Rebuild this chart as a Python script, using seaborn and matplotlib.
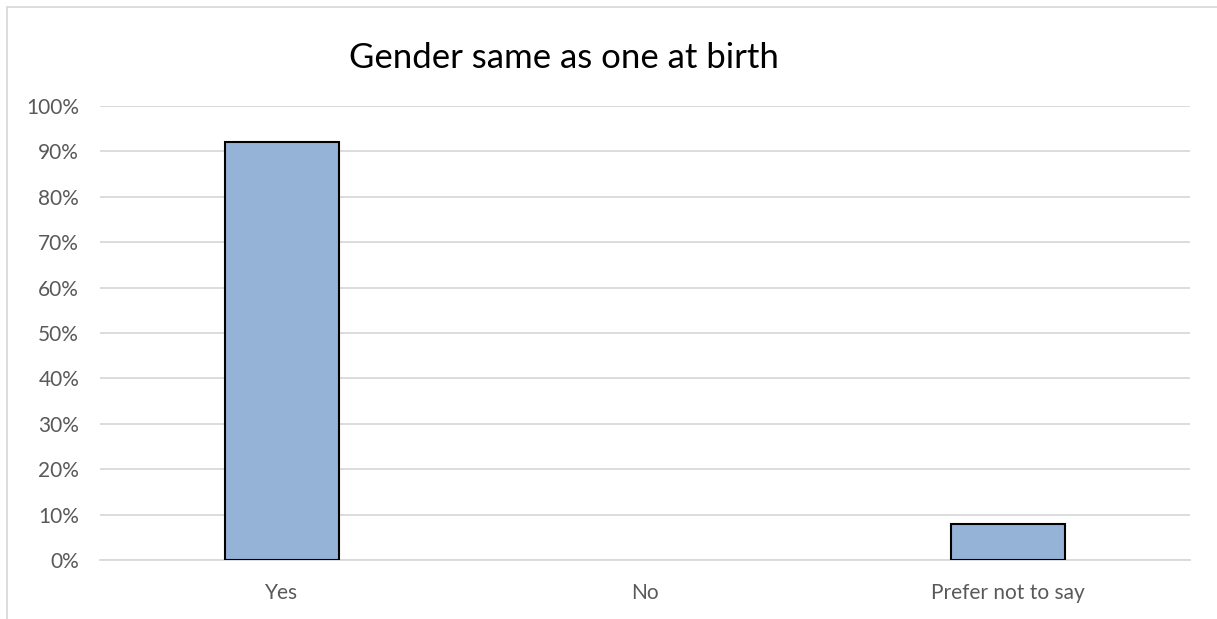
import matplotlib
matplotlib.use("Agg")
import matplotlib.pyplot as plt
import seaborn as sns
import pandas as pd
from matplotlib.patches import Rectangle
from matplotlib.ticker import PercentFormatter

categories = ["Yes", "No", "Prefer not to say"]
values = [92, 0, 8]
yticks = [0, 10, 20, 30, 40, 50, 60, 70, 80, 90, 100]
title = "Gender same as one at birth"

sns.set_theme(style="white")
plt.rcParams['font.family'] = ['Lato', 'DejaVu Sans']

W, H = 1217, 619
fig = plt.figure(figsize=(W / 100, H / 100), dpi=100)
ax = fig.add_axes([100 / W, 1 - 560 / H, (1190 - 100) / W, (560 - 106) / H])

df = pd.DataFrame({"cat": categories, "val": values})
sns.barplot(data=df, x="cat", y="val", ax=ax, color="#95b3d7", saturation=1,
            width=0.314, edgecolor="black", linewidth=1.5, zorder=3)
for p, v in zip(ax.patches, values):
    if v == 0:
        p.set_visible(False)

ax.set_ylim(0, 100)
ax.set_xlim(-0.5, 2.5)
ax.set_yticks(yticks)
ax.yaxis.set_major_formatter(PercentFormatter(decimals=0))
ax.grid(axis="y", color="#d9d9d9", linewidth=1.3, zorder=0)
ax.set_axisbelow(True)
for s in ["top", "right", "left"]:
    ax.spines[s].set_visible(False)
ax.spines["bottom"].set_color("#d9d9d9")
ax.spines["bottom"].set_linewidth(1.3)
ax.tick_params(axis="both", length=0, labelsize=15, colors="#595959")
ax.tick_params(axis="y", pad=15)
ax.tick_params(axis="x", pad=16.5)
ax.set_xlabel("")
ax.set_ylabel("")

fig.text(564 / W, 1 - 58 / H, title, ha="center", va="center", fontsize=25, color="black")

fig.patches.append(Rectangle((7 / W, -0.1), 1.2, 1 - 7 / H + 0.1, transform=fig.transFigure,
                             fill=False, edgecolor="#d9d9d9", linewidth=1.3))

fig.savefig("out.png", dpi=100)
